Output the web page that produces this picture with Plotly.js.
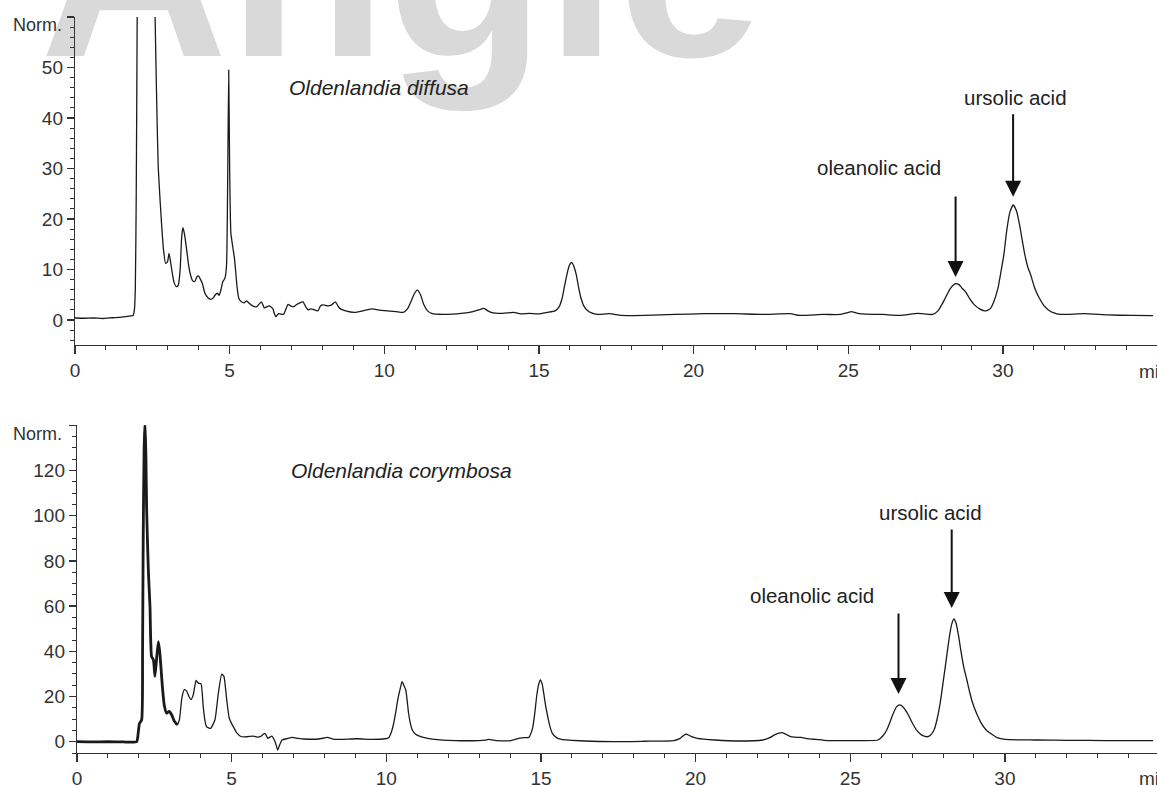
<!DOCTYPE html>
<html>
<head>
<meta charset="utf-8">
<script src="https://cdn.plot.ly/plotly-3.0.1.min.js"></script>
<style>
  html, body { margin:0; padding:0; background:#ffffff; overflow:hidden; }
  #wrap { position:relative; width:1157px; height:785px; overflow:hidden; }
  #wm { position:absolute; left:40px; top:-164px; font-family:"Liberation Sans", Arial, sans-serif; font-weight:bold; font-size:260px; line-height:1; color:#d9d9d9; white-space:nowrap; z-index:0; }
  #chart { position:absolute; left:0; top:0; z-index:1; }
</style>
</head>
<body>
<div id="wrap">
  <div id="wm">Angle</div>
  <div id="chart"></div>
</div>
<script>
// ---- Data: Oldenlandia diffusa (top chromatogram) ----
const diffusaTime = [0,0.3,0.6,0.9,1.2,1.5,1.8,1.88,1.92,1.95,1.98,2.01,2.04,2.15,2.3,2.45,2.55,2.59,2.64,2.69,2.75,2.81,2.86,2.93,2.99,3.04,3.09,3.14,3.2,3.28,3.34,3.4,3.45,3.49,3.54,3.61,3.67,3.72,3.8,3.87,3.95,4.0,4.06,4.12,4.2,4.3,4.38,4.46,4.54,4.6,4.66,4.72,4.78,4.85,4.9,4.94,4.97,5.0,5.04,5.1,5.15,5.19,5.24,5.3,5.38,5.47,5.55,5.63,5.74,5.87,5.96,6.03,6.12,6.2,6.28,6.39,6.45,6.49,6.58,6.74,6.82,6.89,6.97,7.06,7.2,7.37,7.46,7.54,7.62,7.7,7.85,7.94,8.02,8.17,8.3,8.42,8.5,8.56,8.75,9.04,9.33,9.61,9.8,10.0,10.38,10.61,10.75,10.86,10.97,11.07,11.17,11.28,11.4,11.53,11.91,12.49,12.87,13.05,13.22,13.35,13.45,13.83,14.18,14.41,14.69,14.98,15.27,15.52,15.65,15.75,15.83,15.9,15.98,16.06,16.13,16.21,16.28,16.36,16.45,16.55,16.7,16.9,17.28,17.67,18.43,19.39,20.35,21.31,22.27,23.13,23.42,24.19,24.76,24.95,25.1,25.25,25.43,26.1,26.68,27.25,27.73,27.9,28.02,28.15,28.31,28.47,28.58,28.68,28.79,28.93,29.08,29.25,29.4,29.5,29.6,29.7,29.84,29.93,30.03,30.12,30.22,30.33,30.44,30.55,30.63,30.71,30.8,30.9,31.03,31.18,31.32,31.47,31.65,31.86,32.62,33.39,34.16,34.85];
const diffusaSignal = [0.4,0.35,0.4,0.3,0.45,0.55,0.8,0.9,2.0,6,25,60,110,180,200,160,90,60,43.6,30.4,23.8,18,14,11.2,11.5,13.2,11.5,9.5,7.5,6.6,6.9,10,16.5,18.3,17,13.9,11,9.3,7.8,7.6,8.6,8.7,8.0,7.2,5.3,4.4,4.1,4.3,5.0,5.3,4.9,6.0,7.6,8.3,11,30,49.5,30,17.2,14.5,12.5,10,6.5,4.2,3.6,3.4,3.8,3.3,2.8,2.6,3.2,3.6,2.4,2.6,2.8,2.3,1.2,0.66,1.25,1.1,2.2,3.1,2.8,2.6,3.2,3.6,2.6,2.0,2.2,2.1,1.8,2.8,3.0,2.8,3.0,3.6,2.8,2.3,1.8,1.5,1.85,2.2,2.0,1.85,1.65,1.5,2.2,3.6,5.2,5.9,5.0,3.0,1.8,1.3,1.1,1.3,1.65,2.0,2.3,1.8,1.5,1.3,1.5,1.2,1.3,1.2,1.5,1.8,2.6,4.3,6.8,8.9,10.8,11.4,10.6,8.9,6.5,4.3,2.8,2.0,1.4,1.1,1.25,0.9,0.9,1.1,1.25,1.25,1.1,1.25,0.9,1.1,1.1,1.4,1.65,1.4,1.2,1.1,0.9,1.3,1.1,1.8,3.0,4.5,6.3,7.2,7.0,6.3,5.6,4.2,3.0,2.2,1.8,1.9,2.3,3.5,6.3,9.3,12.9,17.5,21.2,22.8,21.6,18.5,15.6,12.9,10.6,8.9,6.3,4.3,2.9,2.0,1.4,1.1,1.25,1.0,0.9,0.85];

// ---- Data: Oldenlandia corymbosa (bottom chromatogram) ----
const corymbosaTime = [0,0.5,1.0,1.5,1.93,1.98,2.02,2.09,2.12,2.14,2.17,2.2,2.23,2.25,2.28,2.31,2.36,2.41,2.47,2.52,2.57,2.63,2.68,2.76,2.82,2.9,2.98,3.06,3.15,3.24,3.31,3.39,3.47,3.55,3.62,3.68,3.76,3.85,3.92,4.01,4.08,4.14,4.19,4.32,4.46,4.57,4.68,4.75,4.84,4.92,5.0,5.08,5.16,5.3,5.5,5.7,5.85,5.95,6.06,6.12,6.17,6.24,6.3,6.38,6.44,6.49,6.55,6.63,6.8,6.96,7.15,7.34,7.82,8.1,8.25,8.39,9.06,9.54,9.96,10.08,10.15,10.23,10.3,10.37,10.44,10.51,10.58,10.63,10.68,10.72,10.78,10.84,10.95,11.07,11.3,11.55,12.22,12.98,13.2,13.31,13.42,13.56,14.03,14.32,14.5,14.61,14.68,14.74,14.8,14.86,14.92,14.98,15.04,15.09,15.15,15.22,15.29,15.37,15.5,15.66,16.42,17.38,18.34,19.3,19.5,19.68,19.85,20.06,20.63,21.4,22.17,22.4,22.55,22.8,23.03,23.2,23.41,23.6,23.89,24.27,25.23,25.9,26.05,26.18,26.28,26.37,26.5,26.6,26.7,26.85,27.0,27.14,27.3,27.48,27.6,27.71,27.8,27.9,28.0,28.1,28.2,28.28,28.35,28.42,28.5,28.58,28.67,28.77,28.86,28.96,29.1,29.24,29.38,29.53,29.75,30.01,30.97,32.11,33.26,34.79];
const corymbosaSignal = [0,-0.1,0,-0.1,0,4,8.1,9.6,40,89,130,142,125,104,88,74.5,59.8,37.7,36.2,28.9,36.2,44.3,39.1,24.4,16.3,12.6,13.4,11.9,9.0,7.5,9.7,19.3,23.0,22.3,20,18.6,20.8,27.1,25.9,25.6,15.6,9,6.6,5.9,9.7,21.5,29.9,28.9,18.6,10.5,8.0,6.0,4.0,2.3,2.2,2.5,2.0,2.4,3.7,2.8,1.5,2.0,2.5,0.75,-1.5,-3.7,-1.5,0.75,1.4,1.9,1.5,1.2,1.2,1.9,1.3,1.0,1.3,1.0,1.3,1.8,3.7,7.5,12.6,18.5,22.9,26.6,24.5,22.9,17.5,12.6,8.0,5.2,3.3,2.5,1.6,1.0,0.5,0.5,0.7,1.0,0.8,0.5,0.5,1.6,1.8,1.9,3.8,6.7,12.5,19.9,25.0,27.3,25.5,21.4,16.0,11.1,6.8,3.7,1.8,1.0,0.3,0.0,0.2,0.5,1.5,3.4,2.4,1.5,0.75,0.3,0.75,1.8,3.0,4.0,2.5,2.0,1.9,1.4,1.0,0.5,0.5,0.75,2.5,5.2,8.5,11.8,15.5,16.3,15.5,12.6,8.5,5.2,3.0,2.2,3.0,5.2,9.5,16.5,26,36,46,52,54.3,52.5,47,40,33,27.3,22,17.0,12,8.1,5.4,3.7,1.8,1.0,0.75,0.6,0.5,0.5];
const corymbosaOverlapEnd = 3.3; // early part drawn with a heavier stroke

// ---- Axis ticks ----
const xTickVals = [0,5,10,15,20,25,30];
const xTickText = ['0','5','10','15','20','25','30'];
const xUnitLabel = 'min';
const yTopTickVals = [0,10,20,30,40,50,60];
const yTopTickText = ['0','10','20','30','40','50',''];
const yBotTickVals = [0,20,40,60,80,100,120,140];
const yBotTickText = ['0','20','40','60','80','100','120',''];
const yUnitLabel = 'Norm.';

// ---- Labels ----
const speciesTop = 'Oldenlandia diffusa';
const speciesBottom = 'Oldenlandia corymbosa';
const compoundA = 'oleanolic acid';
const compoundB = 'ursolic acid';

const FONT = '"Liberation Sans", Arial, Helvetica, sans-serif';
const INK = '#1a1a1a';
const AXIS = '#333333';

const W = 1157, H = 785;
const pxPerMin = 30.93;

const earlyT = corymbosaTime.filter(t => t <= corymbosaOverlapEnd);
const earlyS = corymbosaSignal.slice(0, earlyT.length);

const traces = [
  {x: diffusaTime, y: diffusaSignal, xaxis:'x', yaxis:'y', type:'scatter', mode:'lines',
   line:{color:INK, width:1.3, shape:'spline', smoothing:0.5}, hoverinfo:'skip'},
  {x: corymbosaTime, y: corymbosaSignal, xaxis:'x2', yaxis:'y2', type:'scatter', mode:'lines',
   line:{color:INK, width:1.3, shape:'spline', smoothing:0.5}, hoverinfo:'skip'},
  {x: earlyT, y: earlyS, xaxis:'x2', yaxis:'y2', type:'scatter', mode:'lines',
   line:{color:INK, width:2.8, shape:'spline', smoothing:0.5}, hoverinfo:'skip'}
];

function xAxis(left, anchor) {
  return {
    domain:[left/W, 1], range:[0, (W-left)/pxPerMin], anchor: anchor,
    showline:true, linecolor:AXIS, linewidth:1.2, showgrid:false, zeroline:false,
    tickmode:'array', tickvals:xTickVals, ticktext:xTickText,
    ticks:'outside', ticklen:8, tickwidth:1.2, tickcolor:AXIS,
    ticklabelstandoff:0,
    tickfont:{family:FONT, size:19, color:AXIS},
    minor:{tickmode:'linear', tick0:0, dtick:1, ticks:'outside', ticklen:4, tickwidth:1, tickcolor:AXIS}
  };
}
function yAxis(bottomPx, topPx, range, vals, text, minorStep, anchor) {
  return {
    domain:[1-bottomPx/H, 1-topPx/H], range:range, anchor:anchor,
    showline:true, linecolor:AXIS, linewidth:1.2, showgrid:false, zeroline:false,
    tickmode:'array', tickvals:vals, ticktext:text,
    ticks:'outside', ticklen:7, tickwidth:1.2, tickcolor:AXIS,
    tickfont:{family:FONT, size:19, color:AXIS},
    minor:{tickmode:'linear', tick0:0, dtick:minorStep, ticks:'outside', ticklen:3.5, tickwidth:1, tickcolor:AXIS}
  };
}

function label(text, x, y, xref, yref, xanchor, italic, size) {
  return {text:text, x:x, y:y, xref:xref, yref:yref, xanchor:xanchor, yanchor:'middle',
          showarrow:false, font:{family:FONT, size:size, color:'#222', style: italic ? 'italic' : 'normal'}};
}
function arrow(x, y, xref, yref, len) {
  return {text:'', x:x, y:y, xref:xref, yref:yref, ax:0, ay:-len, showarrow:true,
          arrowhead:2, arrowsize:1.6, arrowwidth:2, arrowcolor:'#111', standoff:0};
}
function unitX(yPx) {
  return {text:xUnitLabel, x:1137/W, y:1-yPx/H, xref:'paper', yref:'paper', xanchor:'left', yanchor:'middle',
          showarrow:false, font:{family:FONT, size:19, color:AXIS}};
}
function unitY(yPx) {
  return {text:yUnitLabel, x:64/W, y:1-yPx/H, xref:'paper', yref:'paper', xanchor:'right', yanchor:'middle',
          showarrow:false, font:{family:FONT, size:18, color:AXIS}};
}

const annotations = [
  unitY(25), unitY(434), unitX(371), unitX(778),
  label(speciesTop, 6.85, 46.1, 'x', 'y', 'left', true, 21),
  label(compoundB, 30.42, 44, 'x', 'y', 'center', false, 20.5),
  label(compoundA, 26.0, 30.1, 'x', 'y', 'center', false, 20.5),
  arrow(30.33, 24.4, 'x', 'y', 84),
  arrow(28.47, 8.5, 'x', 'y', 82),
  label(speciesBottom, 6.85, 120.2, 'x2', 'y2', 'left', true, 21),
  label(compoundB, 27.6, 101.2, 'x2', 'y2', 'center', false, 20.5),
  label(compoundA, 23.76, 64.5, 'x2', 'y2', 'center', false, 20.5),
  arrow(28.28, 59.2, 'x2', 'y2', 80),
  arrow(26.56, 21.1, 'x2', 'y2', 82)
];

const layout = {
  width:W, height:H, margin:{l:0, r:0, t:0, b:0, pad:0},
  paper_bgcolor:'rgba(0,0,0,0)', plot_bgcolor:'rgba(0,0,0,0)',
  showlegend:false, font:{family:FONT, color:AXIS},
  xaxis: xAxis(75, 'y'),
  yaxis: yAxis(345.25, 17, [-5, 60], yTopTickVals, yTopTickText, 2, 'x'),
  xaxis2: xAxis(77, 'y2'),
  yaxis2: yAxis(753, 425.3, [-5, 140], yBotTickVals, yBotTickText, 5, 'x2'),
  annotations: annotations
};

Plotly.newPlot('chart', traces, layout, {staticPlot:true, displayModeBar:false});
</script>
</body>
</html>
